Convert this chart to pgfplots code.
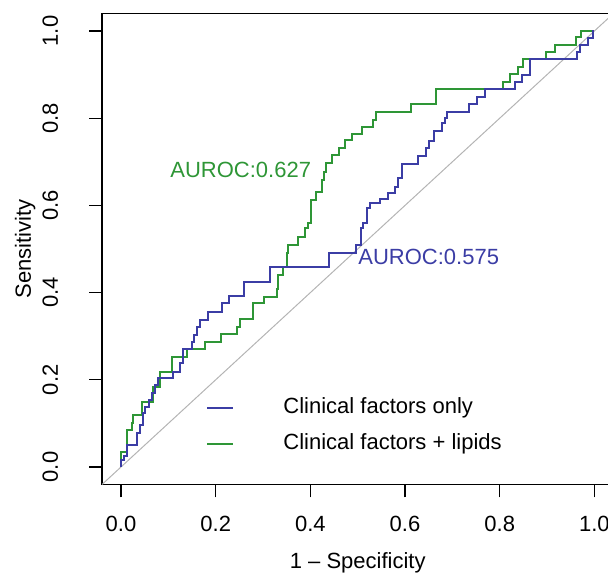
\documentclass[border=0pt]{standalone}
\usepackage{fontspec}
\setmainfont{Liberation Sans}
\usepackage{pgfplots}
\pgfplotsset{compat=1.18}
\definecolor{rocblue}{HTML}{3B3DA5}
\definecolor{rocgreen}{HTML}{2E9636}
\definecolor{diaggray}{HTML}{B4B4B4}

% ROC points (1 - specificity, sensitivity), upper corner of each step
\pgfplotstableread{
x y
0 0
0 0.0161
0.0063 0.0252
0.0127 0.0505
0.0338 0.0780
0.0401 0.0963
0.0465 0.1239
0.0507 0.1376
0.0592 0.1537
0.0655 0.1697
0.0718 0.1881
0.0782 0.2041
0.1099 0.2179
0.1247 0.2385
0.1310 0.2706
0.1500 0.2867
0.1542 0.3028
0.1606 0.3211
0.1669 0.3372
0.1838 0.3555
0.2134 0.3761
0.2282 0.3922
0.2599 0.4243
0.3148 0.4587
0.4395 0.4908
0.4965 0.5092
0.5071 0.5482
0.5113 0.5596
0.5198 0.5940
0.5261 0.6055
0.5472 0.6147
0.5641 0.6284
0.5789 0.6422
0.5853 0.6628
0.5937 0.6950
0.6275 0.7133
0.6444 0.7317
0.6507 0.7477
0.6613 0.7706
0.6782 0.7890
0.6846 0.8005
0.6888 0.8142
0.7353 0.8326
0.7522 0.8486
0.7691 0.8670
0.8324 0.8830
0.8472 0.8991
0.8641 0.9358
0.9635 0.9518
0.9698 0.9679
0.9867 0.9839
0.9973 1.0
1.0 1.0
}\clinonly

\pgfplotstableread{
x y
0 0
0 0.0344
0.0127 0.0849
0.0232 0.1009
0.0254 0.1193
0.0444 0.1491
0.0676 0.1835
0.0824 0.2179
0.1078 0.2523
0.1394 0.2706
0.1775 0.2867
0.2113 0.3050
0.2451 0.3211
0.2514 0.3394
0.2789 0.3761
0.3021 0.3899
0.3296 0.4083
0.3317 0.4404
0.3423 0.4587
0.3507 0.4908
0.3528 0.5092
0.3740 0.5275
0.3888 0.5482
0.3951 0.5596
0.4014 0.6124
0.4120 0.6307
0.4247 0.6583
0.4289 0.6766
0.4331 0.6972
0.4458 0.7156
0.4606 0.7317
0.4733 0.7500
0.4881 0.7638
0.5092 0.7798
0.5324 0.7959
0.5388 0.8142
0.6127 0.8326
0.6655 0.8670
0.8071 0.8830
0.8219 0.9014
0.8388 0.9174
0.8494 0.9358
0.8979 0.9518
0.9170 0.9679
0.9613 0.9862
0.9719 1.0
1.0 1.0
}\cliniplus

\begin{document}
\begin{tikzpicture}
\begin{axis}[
  scale only axis, width=255.6pt, height=235.4pt,
  xmin=-0.04, xmax=1.04, ymin=-0.04, ymax=1.04,
  xtick={0,0.2,0.4,0.6,0.8,1}, ytick={0,0.2,0.4,0.6,0.8,1},
  tick pos=left, tick align=outside, major tick length=6.5pt,
  every tick/.style={black, line width=0.7pt},
  axis line style={black, line width=0.7pt},
  /pgf/number format/.cd, fixed, fixed zerofill, precision=1, assume math mode=true,
  /pgfplots/.cd,
  ticklabel style={font=\fontsize{11}{13}\selectfont},
  yticklabel style={rotate=90, anchor=south},
  xticklabel shift=6pt, yticklabel shift=12pt,
  xlabel={1 – Specificity}, ylabel={Sensitivity},
  label style={font=\fontsize{11}{13}\selectfont},
  xlabel style={at={(axis description cs:0.5,-0.167)}, anchor=center},
  ylabel style={at={(axis description cs:-0.1506,0.5)}, anchor=center},
]
\addplot[diaggray, line width=0.5pt] coordinates {(-0.04,-0.04) (1.04,1.04)};
\addplot[rocgreen, line width=1pt, const plot] table {\cliniplus};
\addplot[rocblue, line width=1pt, const plot] table {\clinonly};

\node[rocgreen, anchor=west, inner sep=0, font=\fontsize{11}{13}\selectfont] at (axis cs:0.1035,0.681) {AUROC:0.627};
\node[rocblue, anchor=west, inner sep=0, font=\fontsize{11}{13}\selectfont] at (axis cs:0.5007,0.4817) {AUROC:0.575};

\draw[rocblue, line width=1pt] (axis cs:0.1817,0.1353) -- (axis cs:0.2366,0.1353);
\draw[rocgreen, line width=1pt] (axis cs:0.1817,0.0528) -- (axis cs:0.2366,0.0528);
\node[anchor=west, inner sep=0, font=\fontsize{11}{13}\selectfont] at (axis cs:0.3423,0.1353) {Clinical factors only};
\node[anchor=west, inner sep=0, font=\fontsize{11}{13}\selectfont] at (axis cs:0.3423,0.0528) {Clinical factors + lipids};
\end{axis}
\pgfresetboundingbox
\path[use as bounding box] (-51.05pt,-43.8pt) rectangle (252.95pt,242.2pt);
\end{tikzpicture}
\end{document}
